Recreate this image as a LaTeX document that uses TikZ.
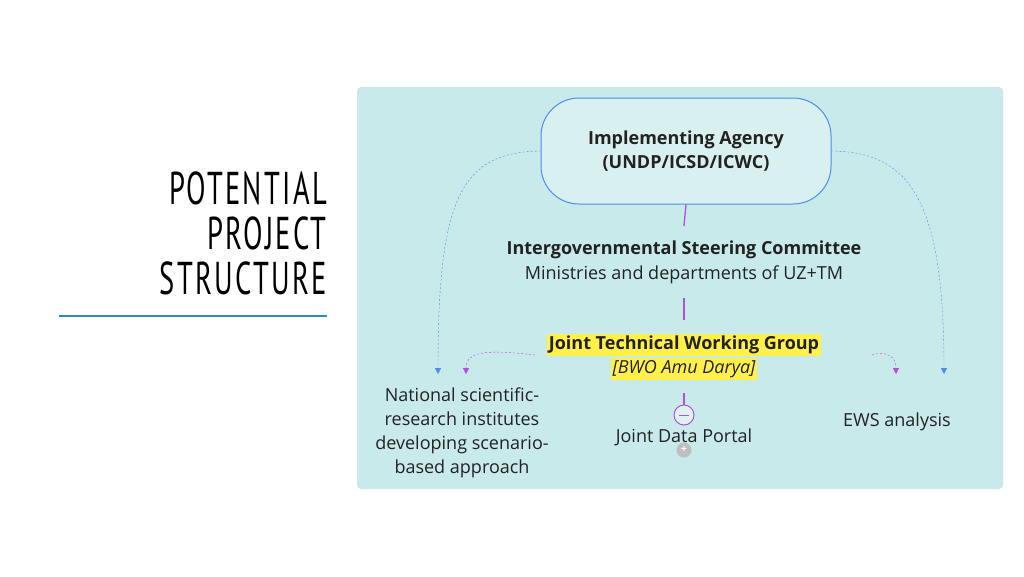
\documentclass[tikz,border=0pt]{standalone}
\usepackage{fontspec}
\setmainfont{Open Sans}
\newfontfamily\titlefont[LetterSpace=8]{PT Sans}
\usetikzlibrary{arrows.meta,calc}
\definecolor{panel}{HTML}{C8EAEA}
\definecolor{boxblue}{HTML}{4A8DF0}
\definecolor{purp}{HTML}{B04FE0}
\definecolor{hl}{HTML}{FFF04A}
\definecolor{txt}{HTML}{222222}
\tikzset{
  t/.style={font=\fontsize{18}{24}\selectfont, text=txt, align=center},
  tb/.style={t, font=\fontsize{18}{24}\selectfont\bfseries},
  bluedash/.style={boxblue, dashed, dash pattern=on 2pt off 2pt, thin, -{Triangle[length=6pt,width=6pt]}},
  purpdash/.style={purp, dashed, dash pattern=on 2pt off 2pt, thin, -{Triangle[length=6pt,width=6pt]}},
  stem/.style={purp, line width=1.3pt}
}
\begin{document}
\begin{tikzpicture}[x=1pt,y=-1pt]
\useasboundingbox (0,0) rectangle (1024,576);
\fill[white] (0,0) rectangle (1024,576);
\fill[panel, rounded corners=4pt] (357,87) rectangle (1003,489);
% title
\node[anchor=east, font=\titlefont\fontsize{46}{45}\selectfont, text=black, align=right, inner sep=0pt] (title) at (327,233)
  {\scalebox{0.62}[1]{POTENTIAL}\\\scalebox{0.62}[1]{PROJECT}\\\scalebox{0.62}[1]{STRUCTURE}};
\coordinate (ul1) at (59,316); \coordinate (ul2) at (327,316);
\draw[color={rgb,255:red,46;green,139;blue,192}, line width=1.2pt] (ul1) -- (ul2);
% agency box
\node[draw=boxblue, line width=1pt, fill=panel!70!white, rounded corners=38pt, minimum width=290pt, minimum height=106pt, tb] (agency) at (686,151) {Implementing Agency\\(UNDP/ICSD/ICWC)};
\node[tb] (isc) at (684,250) {Intergovernmental Steering Committee};
\node[t] (isc2) at (684,275) {Ministries and departments of UZ+TM};
\node[tb, fill=hl, inner sep=2pt] (jtwg) at (684,345) {Joint Technical Working Group};
\node[t, fill=hl, inner sep=2pt, font=\fontsize{18}{22}\selectfont\itshape] (bwo) at (684,369) {[BWO Amu Darya]};
\node[draw=purp, line width=1pt, fill=panel!60!white, circle, minimum size=20pt, inner sep=0pt] (minus) at (684,415) {};
\draw[purp, line width=1pt] ($(minus)+(-5,0)$) -- ($(minus)+(5,0)$);
\node[t] (jdp) at (684,437) {Joint Data Portal};
\node[fill=gray!50, circle, minimum size=15pt, inner sep=0pt, text=white, font=\bfseries] (plus) at (684,450) {+};
\node[t] (nsri) at (462,433) {National scientific-\\research institutes\\developing scenario-\\based approach};
\node[t] (ews) at (897,422) {EWS analysis};
% stems
\draw[stem] (agency.south) -- (684,226);
\draw[stem] (684,298) -- (684,320);
\draw[stem] (684,393) -- (minus.north);
% arrows
\coordinate (la) at (438,374); \coordinate (ra) at (944,374);
\coordinate (lp) at (466,374); \coordinate (rp) at (896,374);
\coordinate (ljs) at (535,355); \coordinate (rjs) at (872,355);
\draw[bluedash] (agency.west) .. controls (460,152) and (438,200) .. (la);
\draw[bluedash] (agency.east) .. controls (910,152) and (944,200) .. (ra);
\draw[purpdash] (ljs) .. controls (490,350) and (466,350) .. (lp);
\draw[purpdash] (rjs) .. controls (880,352) and (896,352) .. (rp);
\end{tikzpicture}
\end{document}
